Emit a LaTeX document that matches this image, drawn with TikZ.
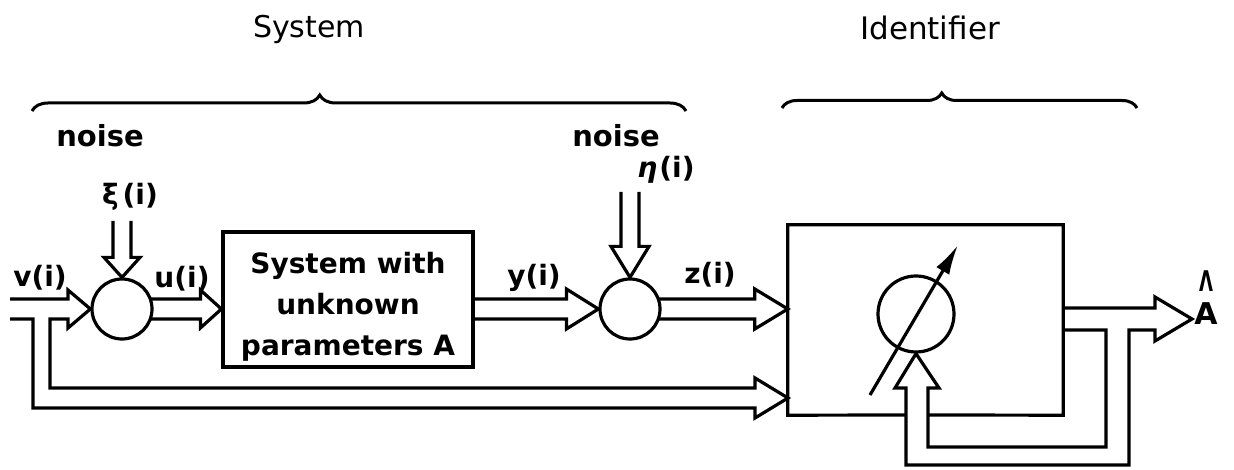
\documentclass[tikz,border=0pt]{standalone}
\usepackage{fontspec}
\setmainfont{DejaVu Sans}
\usepackage{graphicx}
\usetikzlibrary{calc,arrows.meta,decorations.pathreplacing}
\pgfdeclarelayer{bg}
\pgfsetlayers{bg,main}
\newcommand\hpipe[5]{\draw[ln] let \p1=#1, \p2=#2 in (\x1,\y2+#3) -- (\x2-#5,\y2+#3) -- (\x2-#5,\y2+#4) -- (\x2,\y2) -- (\x2-#5,\y2-#4) -- (\x2-#5,\y2-#3) -- (\x1,\y2-#3);}
\newcommand\vpipe[5]{\draw[ln] let \p1=#1, \p2=#2 in (\x2-#3,\y1) -- (\x2-#3,\y2+#5) -- (\x2-#4,\y2+#5) -- (\x2,\y2) -- (\x2+#4,\y2+#5) -- (\x2+#3,\y2+#5) -- (\x2+#3,\y1);}
\begin{document}
\begin{tikzpicture}[x=1pt,y=-1pt,line join=miter,
  ln/.style={line width=3.2pt},
  brc/.style={line width=3pt,decorate},
  lbl/.style={font=\fontsize{28}{30}\selectfont\bfseries,inner sep=0pt},
  nlbl/.style={font=\fontsize{29}{30}\selectfont\bfseries,inner sep=0pt,anchor=base},
  ttl/.style={font=\fontsize{30}{32}\selectfont,inner sep=0pt},
  boxtxt/.style={font=\fontsize{28}{41}\selectfont\bfseries,align=center,inner sep=0pt},
  sumnode/.style={circle,draw,fill=white,line width=3.2pt,minimum size=60pt,inner sep=0pt},
  blk/.style={draw,line width=3.2pt,inner sep=0pt}]
\useasboundingbox (0,0) rectangle (1234,470);

% nodes
\node[sumnode] (s1) at (122,309) {};
\node[sumnode] (s2) at (630,309) {};
\node[blk,minimum width=250pt,minimum height=135pt] (sys) at (348,299.5) {};
\node[boxtxt] (systxt) at (348,307) {System with\\unknown\\parameters A};
\node[minimum width=275pt,minimum height=190pt,inner sep=0pt] (idf) at (925.5,320) {};
\node[circle,draw,ln,minimum size=76pt,inner sep=0pt] (adj) at (916,314) {};

\coordinate (vin) at (10,309);
\coordinate (n1) at (122,221);
\coordinate (n2) at (631,192);
\coordinate (Aout) at (1192,319);
\coordinate (lowin) at (788,398);
\coordinate (da) at (870,395);
\coordinate (db) at (958,245);

% identifier box (open where feedback enters)
\draw[ln] (906,415) -- (idf.south west) -- (idf.north west) -- (idf.north east) -- (idf.south east) -- (928,415);
\draw[ln,-{Latex[length=30pt,width=15pt]}] (da) -- (db);

\begin{pgfonlayer}{bg}
\vpipe{(n1)}{(s1.north)}{9pt}{18pt}{20pt}
\vpipe{(n2)}{(s2.north)}{9pt}{19pt}{31pt}
\hpipe{(s1.center)}{(sys.west |- s1.center)}{10pt}{19pt}{21pt}
\hpipe{(sys.east |- s2.center)}{(s2.west)}{10pt}{20pt}{32pt}
\hpipe{(s2.center)}{(idf.west |- s2.center)}{10pt}{20pt}{33pt}
% input v(i) with branch to identifier
\draw[ln] ($(vin)+(0,-10)$) -- (68,299) -- (68,290) -- (s1.west) -- (68,328) -- (68,319)
  -- (50,319) -- (50,388) -- (755,388) -- (755,378) -- (lowin) -- (755,418) -- (755,408)
  -- (33,408) -- (33,319) -- ($(vin)+(0,10)$);
% output and feedback
\draw[ln] ($(idf.east)+(0,-12)$) -- (1155,308) -- (1155,297) -- (Aout) -- (1155,341) -- (1155,330)
  -- (1129,330) -- (1129,465) -- (906,465) -- (906,388) -- (895,388) -- (adj.south)
  -- (939,388) -- (928,388) -- (928,447) -- (1106,447) -- (1106,330) -- ($(idf.east)+(0,10)$);
\end{pgfonlayer}

% braces
\draw[brc,decoration={brace,amplitude=16pt,aspect=0.44}] (32,111) -- (686,111);
\draw[brc,decoration={brace,amplitude=15pt,aspect=0.45}] (782,108) -- (1137,108);

% texts
\node[ttl] (tsys) at (309,29) {System};
\node[ttl,font=\fontsize{31}{33}\selectfont] (tidf) at (930,28) {Identifier};
\node[nlbl] (noise1) at (100,147) {noise};
\node[nlbl] (noise2) at (616,147) {noise};
\node[lbl] (xi) at (130,197) {ξ\kern4pt(i)};
\node[lbl] (eta) at (666,170) {\textit{η}\kern2pt(i)};
\node[lbl] (v) at (40,278) {v(i)};
\node[lbl] (u) at (182,279) {u(i)};
\node[lbl] (y) at (534,278) {y(i)};
\node[lbl] (z) at (710,275) {z(i)};
\node[lbl,font=\fontsize{30}{33}\selectfont\bfseries,align=center] (ahat) at (1206,298)
  {\scalebox{0.6}[0.95]{Λ}\\A};
\end{tikzpicture}
\end{document}
